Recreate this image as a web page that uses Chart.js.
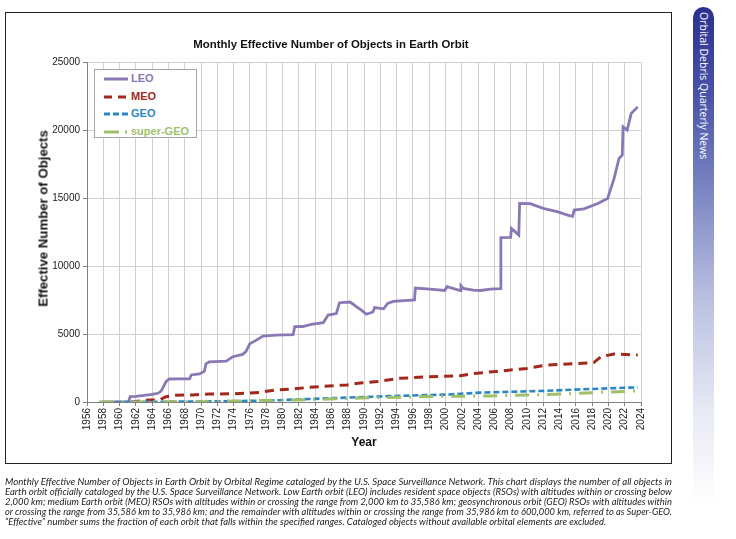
<!DOCTYPE html>
<html>
<head>
<meta charset="utf-8">
<script src="https://cdn.jsdelivr.net/npm/chart.js@4"></script>
<style>
  body { margin: 0; background: #fff; width: 736px; height: 539px; position: relative; overflow: hidden; font-family: "Liberation Sans", Arial, sans-serif; }
  #frame { position: absolute; left: 5px; top: 12px; width: 667px; height: 452px; box-sizing: border-box; border: 1.5px solid #222; }
  #chart { position: absolute; left: 0; top: 0; }
  #title { position: absolute; left: 131px; width: 400px; top: 38px; text-align: center; font-weight: bold; font-size: 11.4px; color: #111; }
  #ytitle { position: absolute; left: -57px; width: 200px; top: 211px; text-align: center; font-weight: bold; font-size: 13.2px; color: #111; transform: rotate(-90deg); }
  #legend { position: absolute; left: 94px; top: 69px; width: 103px; height: 69px; box-sizing: border-box; border: 1px solid #a6a6a6; background: #fff; }
  .item { position: absolute; left: 0; height: 16px; width: 100px; }
  .item svg { position: absolute; left: 9px; top: 3px; }
  .item span { position: absolute; left: 36px; top: 1px; font-weight: bold; font-size: 11px; }
  #side { position: absolute; left: 693px; top: 7px; width: 21px; height: 500px; border-radius: 11px 11px 0 0;
    background: linear-gradient(to bottom, #2b2f8e 0%, #4a54a8 18%, #7f89c4 38%, #b9bfe0 58%, #e6e8f4 80%, #ffffff 100%); }
  #side span { position: absolute; left: 4px; top: 5px; writing-mode: vertical-rl; color: #fff; font-family: "Open Sans", "Noto Sans", sans-serif; font-size: 10.5px; white-space: nowrap; }
  #caption { position: absolute; left: 5px; top: 477px; width: 667px; font-family: Lato, "Open Sans", sans-serif; font-style: italic; font-size: 9.6px; line-height: 9.9px; color: #222; }
  #caption div { white-space: nowrap; height: 9.9px; }
  #caption span { display: inline-block; transform-origin: 0 50%; }
</style>
</head>
<body>
<div id="side"><span>Orbital Debris Quarterly News</span></div>
<div id="frame"></div>
<canvas id="chart" width="736" height="539"></canvas>
<div id="title">Monthly Effective Number of Objects in Earth Orbit</div>
<div id="ytitle">Effective Number of Objects</div>
<div id="legend">
  <div class="item" style="top:1px"><svg width="26" height="10"><line x1="0" y1="5" x2="24" y2="5" stroke="#8a78b4" stroke-width="3"/></svg><span style="color:#8a78b4">LEO</span></div>
  <div class="item" style="top:19px"><svg width="26" height="10"><line x1="0" y1="5" x2="24" y2="5" stroke="#a3281c" stroke-width="3" stroke-dasharray="8,6"/></svg><span style="color:#a3281c">MEO</span></div>
  <div class="item" style="top:36px"><svg width="26" height="10"><line x1="0" y1="5" x2="24" y2="5" stroke="#2c86c4" stroke-width="3" stroke-dasharray="6,3"/></svg><span style="color:#2c86c4">GEO</span></div>
  <div class="item" style="top:54px"><svg width="26" height="10"><line x1="0" y1="5" x2="24" y2="5" stroke="#9fc069" stroke-width="3" stroke-dasharray="15,6,2,6"/></svg><span style="color:#9fc069">super-GEO</span></div>
</div>
<div id="caption">
  <div><span>Monthly Effective Number of Objects in Earth Orbit by Orbital Regime cataloged by the U.S. Space Surveillance Network. This chart displays the number of all objects in</span></div>
  <div><span>Earth orbit officially cataloged by the U.S. Space Surveillance Network. Low Earth orbit (LEO) includes resident space objects (RSOs) with altitudes within or crossing below</span></div>
  <div><span>2,000 km; medium Earth orbit (MEO) RSOs with altitudes within or crossing the range from 2,000 km to 35,586 km; geosynchronous orbit (GEO) RSOs with altitudes within</span></div>
  <div><span>or crossing the range from 35,586 km to 35,986 km; and the remainder with altitudes within or crossing the range from 35,986 km to 600,000 km, referred to as Super-GEO.</span></div>
  <div><span>“Effective” number sums the fraction of each orbit that falls within the specified ranges. Cataloged objects without available orbital elements are excluded.</span></div>
</div>
<script>
// valores (año, numero de objetos)
var yearTicks = [1956, 1958, 1960, 1962, 1964, 1966, 1968, 1970, 1972, 1974, 1976, 1978, 1980, 1982, 1984, 1986, 1988, 1990,
  1992, 1994, 1996, 1998, 2000, 2002, 2004, 2006, 2008, 2010, 2012, 2014, 2016, 2018, 2020, 2022, 2024];
var valueTicks = [0, 5000, 10000, 15000, 20000, 25000];

var leoX = [1957.8, 1961.1, 1961.3, 1962, 1963, 1964, 1964.7, 1965.1, 1965.7, 1966.1, 1967.5, 1968.6, 1968.8, 1969.8, 1970.4, 1970.6,
  1971, 1973.1, 1973.9, 1975.1, 1975.5, 1976, 1976.8, 1977.6, 1979.2, 1981.3, 1981.5, 1982.5, 1983.5, 1985, 1985.6, 1986.6, 1987,
  1988.3, 1989.1, 1989.8, 1990.3, 1991.1, 1991.3, 1992.4, 1992.9, 1993.6, 1996.2, 1996.3, 1998.1, 1999.9, 2000.2, 2001.8, 2001.9,
  2002.2, 2003.4, 2004.3, 2005.5, 2006.7, 2006.8, 2008, 2008.1, 2009, 2009.1, 2010.4, 2012, 2013.7, 2015.2, 2015.6, 2015.8, 2017,
  2018.7, 2019.9, 2020.7, 2021.3, 2021.7, 2021.8, 2022.3, 2022.8, 2023.6];
var leoY = [0, 20, 390, 420, 480, 560, 640, 800, 1490, 1690, 1700, 1700, 1990, 2060, 2250, 2800,
  2950, 3000, 3330, 3500, 3700, 4300, 4550, 4850, 4920, 4950, 5540, 5550, 5700, 5830, 6390, 6500, 7300,
  7350, 7000, 6700, 6450, 6620, 6940, 6850, 7250, 7400, 7500, 8380, 8300, 8200, 8480, 8200, 8550,
  8350, 8220, 8200, 8300, 8330, 12080, 12100, 12760, 12270, 14600, 14580, 14240, 14000, 13700, 13650, 14110, 14200,
  14600, 14970, 16440, 17910, 18150, 20240, 20000, 21220, 21700];

var meoX = [1961.4, 1963.6, 1964.9, 1965.7, 1966.9, 1969, 1971, 1973.9, 1977.2, 1979.2, 1981.3, 1983.3, 1986.2, 1987.9, 1989.5,
  1991.6, 1994.4, 1998.1, 2001.8, 2003.5, 2005.9, 2008, 2010, 2012.5, 2015, 2017.4, 2018.2, 2019.1, 2020.7, 2023.6];
var meoY = [0, 150, 160, 390, 500, 520, 590, 600, 710, 880, 960, 1080, 1200, 1250, 1400,
  1500, 1740, 1860, 1930, 2100, 2230, 2350, 2470, 2720, 2800, 2870, 2900, 3330, 3530, 3460];

var geoX = [1959.5, 1965, 1970, 1978, 1985.4, 1991.6, 1997.7, 2000, 2004.3, 2011.7, 2016.6, 2023.6];
var geoY = [0, 20, 40, 100, 270, 400, 510, 540, 690, 810, 930, 1080];

var sgeoX = [1957.5, 1965, 1971, 1981.3, 1991.6, 2000, 2005.5, 2010, 2014.5, 2019.1, 2023.4];
var sgeoY = [0, 10, 30, 150, 320, 420, 440, 515, 590, 710, 810];

function puntos(xs, ys) {
  return xs.map(function(x, i) { return { x: x, y: ys[i] }; });
}

// ajustar las lineas del pie de figura al ancho del recuadro
var lineas = document.querySelectorAll('#caption span');
var factores = [];
lineas.forEach(function(s, i) {
  if (i < lineas.length - 1) {
    var f = 667 / s.getBoundingClientRect().width;
    factores.push(f);
    s.style.transform = 'scaleX(' + f + ')';
  }
});
var fMedio = factores.reduce(function(a, b) { return a + b; }, 0) / factores.length;
lineas[lineas.length - 1].style.transform = 'scaleX(' + fMedio + ')';

var ctx = document.getElementById('chart').getContext('2d');
var grafica = new Chart(ctx, {
  type: 'line',
  data: {
    datasets: [
      { label: 'LEO', data: puntos(leoX, leoY), borderColor: '#8a78b4', borderWidth: 2.8, order: 4 },
      { label: 'MEO', data: puntos(meoX, meoY), borderColor: '#a3281c', borderWidth: 3, borderDash: [9, 6], order: 3 },
      { label: 'GEO', data: puntos(geoX, geoY), borderColor: '#2c86c4', borderWidth: 2.6, borderDash: [6, 3], order: 2 },
      { label: 'super-GEO', data: puntos(sgeoX, sgeoY), borderColor: '#9fc069', borderWidth: 3, borderDash: [14, 8, 2, 8], order: 1 }
    ]
  },
  options: {
    responsive: false,
    animation: false,
    elements: { point: { radius: 0 }, line: { tension: 0 } },
    layout: { padding: { left: 0, right: 95, top: 62, bottom: 77 } },
    plugins: { legend: { display: false }, tooltip: { enabled: false }, title: { display: false } },
    scales: {
      x: {
        type: 'linear', min: 1956, max: 2024,
        afterBuildTicks: function(scale) { scale.ticks = yearTicks.map(function(v) { return { value: v }; }); },
        afterFit: function(scale) { scale.height = 60; },
        grid: { color: '#d0d0d0', tickColor: '#808080', tickLength: 4 },
        border: { color: '#808080' },
        ticks: { autoSkip: false, minRotation: 90, maxRotation: 90, padding: 2, color: '#222',
          font: { family: 'Liberation Sans', size: 10 }, callback: function(v) { return String(v); } },
        title: { display: true, text: 'Year', color: '#111', font: { family: 'Liberation Sans', size: 12, weight: 'bold' }, padding: { top: 0, bottom: 12 } }
      },
      y: {
        min: 0, max: 25000,
        afterBuildTicks: function(scale) { scale.ticks = valueTicks.map(function(v) { return { value: v }; }); },
        afterFit: function(scale) { scale.width = 87; },
        grid: { color: '#d0d0d0', tickColor: '#808080', tickLength: 4 },
        border: { color: '#808080' },
        ticks: { padding: 3, color: '#222', font: { family: 'Liberation Sans', size: 10 }, callback: function(v) { return String(v); } },
        title: { display: false }
      }
    }
  }
});
</script>
</body>
</html>
